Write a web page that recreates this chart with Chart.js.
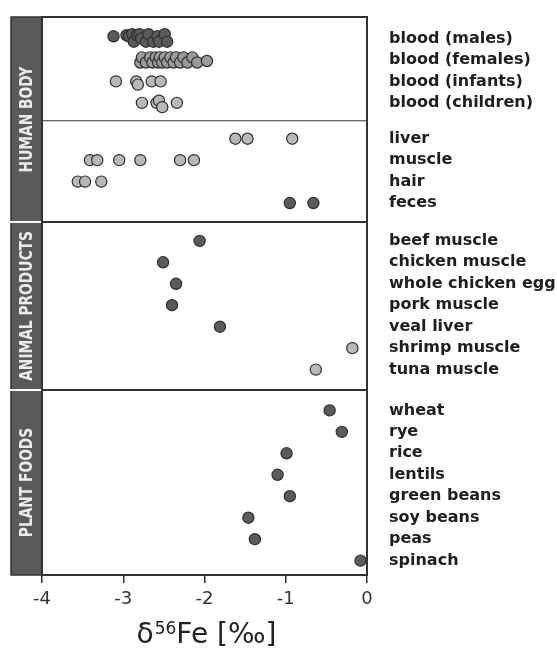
<!DOCTYPE html>
<html>
<head>
<meta charset="utf-8">
<script src="https://cdn.jsdelivr.net/npm/chart.js@4.4.1/dist/chart.umd.min.js"></script>
<style>
  html, body { margin: 0; padding: 0; background: #fff; }
  #wrap { width: 557px; height: 648px; }
</style>
</head>
<body>
<div id="wrap"><canvas id="feChart"></canvas></div>
<script>
// categories (top to bottom)
const bloodLabels = ['blood (males)', 'blood (females)', 'blood (infants)', 'blood (children)'];
const tissueLabels = ['liver', 'muscle', 'hair', 'feces'];
const animalLabels = ['beef muscle', 'chicken muscle', 'whole chicken egg', 'pork muscle', 'veal liver', 'shrimp muscle', 'tuna muscle'];
const plantLabels = ['wheat', 'rye', 'rice', 'lentils', 'green beans', 'soy beans', 'peas', 'spinach'];
const groupNames = ['HUMAN BODY', 'ANIMAL PRODUCTS', 'PLANT FOODS'];

// delta56Fe values, permil
const malesValues = [-3.12, -2.96, -2.93, -2.89, -2.87, -2.83, -2.80, -2.78, -2.72, -2.69, -2.63, -2.58, -2.56, -2.49, -2.46];
const malesSpread = [-0.1, -0.15, -0.1, -0.2, 0.15, -0.15, -0.2, 0, 0.15, -0.2, 0.15, -0.1, 0.15, -0.2, 0.15];
const femalesValues = [-2.79, -2.77, -2.72, -2.67, -2.64, -2.60, -2.57, -2.55, -2.52, -2.49, -2.46, -2.42, -2.38, -2.35, -2.30, -2.26, -2.21, -2.15, -2.09, -1.97];
const femalesSpread = [0.12, -0.12, 0.12, -0.12, 0.12, -0.12, 0.12, -0.12, 0.12, -0.12, 0.12, -0.12, 0.12, -0.12, 0.12, -0.12, 0.12, -0.12, 0.12, 0.05];
const infantsValues = [-3.09, -2.84, -2.82, -2.65, -2.54];
const infantsSpread = [0, 0, 0.15, 0, 0];
const childrenValues = [-2.77, -2.59, -2.56, -2.52, -2.34];
const childrenSpread = [0, 0, -0.1, 0.2, 0];
const liverValues = [-1.62, -1.47, -0.92];
const muscleValues = [-3.41, -3.32, -3.05, -2.79, -2.30, -2.13];
const hairValues = [-3.56, -3.47, -3.27];
const fecesValues = [-0.95, -0.66];
const animalValues = [-2.06, -2.51, -2.35, -2.40, -1.81, -0.18, -0.63];
const plantValues = [-0.46, -0.31, -0.99, -1.10, -0.95, -1.46, -1.38, -0.08];
const xTicks = [-4, -3, -2, -1, 0];

// layout of rows on the y scale (one unit per row, gaps between blocks)
const blockStarts = [1.0, 5.67, 10.43, 18.33];
const blocks = [bloodLabels, tissueLabels, animalLabels, plantLabels];
const rows = [];
blocks.forEach((labels, b) => labels.forEach((name, i) => rows.push({ name, y: blockStarts[b] + i })));
const rowY = name => rows.find(r => r.name === name).y;

const DARK = '#5b5b5b', MID = '#9b9b9b', LIGHT = '#b8b8b8';
const lightRows = ['blood (infants)', 'blood (children)', 'liver', 'muscle', 'hair', 'shrimp muscle', 'tuna muscle'];
const shadeOf = name => name === 'blood (females)' ? MID : (lightRows.includes(name) ? LIGHT : DARK);

const rowSeries = [
  ['blood (males)', malesValues, malesSpread],
  ['blood (females)', femalesValues, femalesSpread],
  ['blood (infants)', infantsValues, infantsSpread],
  ['blood (children)', childrenValues, childrenSpread],
  ['liver', liverValues],
  ['muscle', muscleValues],
  ['hair', hairValues],
  ['feces', fecesValues]
];
animalLabels.forEach((n, i) => rowSeries.push([n, [animalValues[i]]]));
plantLabels.forEach((n, i) => rowSeries.push([n, [plantValues[i]]]));

const datasets = rowSeries.map(([name, vals, spread]) => ({
  label: name,
  data: vals.map((v, i) => ({ x: v, y: rowY(name) + (spread ? spread[i] : 0) })),
  backgroundColor: shadeOf(name),
  borderColor: '#2e2e2e',
  borderWidth: 1.2,
  pointRadius: 5.6,
  pointHoverRadius: 5.6
}));

// block boundaries = midway between last row of one block and first of next
const bounds = [];
for (let b = 1; b < blocks.length; b++) {
  bounds.push((blockStarts[b - 1] + blocks[b - 1].length - 1 + blockStarts[b]) / 2);
}

const decorPlugin = {
  id: 'decor',
  afterDraw(chart) {
    const { ctx, chartArea: ca, scales } = chart;
    const y = scales.y;
    const sideL = 11, sideR = ca.left;
    // group edges in pixels: human body covers first two blocks
    const edges = [ca.top, y.getPixelForValue(bounds[1]), y.getPixelForValue(bounds[2]), ca.bottom];
    ctx.save();
    for (let g = 0; g < 3; g++) {
      const t = edges[g], btm = edges[g + 1];
      ctx.fillStyle = '#5a5a5a';
      ctx.fillRect(sideL, t, sideR - sideL, btm - t);
      ctx.strokeStyle = '#333';
      ctx.lineWidth = 1.5;
      ctx.strokeRect(sideL, t, sideR - sideL, btm - t);
      ctx.save();
      ctx.translate((sideL + sideR) / 2 + 1, (t + btm) / 2);
      ctx.rotate(-Math.PI / 2);
      ctx.scale(0.9, 1);
      ctx.fillStyle = '#ececec';
      ctx.font = 'bold 17px "DejaVu Sans Condensed", "DejaVu Sans"';
      ctx.textAlign = 'center';
      ctx.textBaseline = 'middle';
      ctx.fillText(groupNames[g], 0, 0);
      ctx.restore();
    }
    // white gaps between side blocks
    ctx.strokeStyle = '#fff';
    ctx.lineWidth = 2;
    [edges[1], edges[2]].forEach(p => {
      ctx.beginPath(); ctx.moveTo(sideL - 1, p); ctx.lineTo(sideR - 0.5, p); ctx.stroke();
    });
    // dividers in plot
    ctx.strokeStyle = '#333';
    ctx.lineWidth = 2;
    [edges[1], edges[2]].forEach(p => {
      ctx.beginPath(); ctx.moveTo(ca.left, p); ctx.lineTo(ca.right, p); ctx.stroke();
    });
    ctx.lineWidth = 1;
    const thin = y.getPixelForValue(bounds[0]);
    ctx.beginPath(); ctx.moveTo(ca.left, thin); ctx.lineTo(ca.right, thin); ctx.stroke();
    // frame
    ctx.lineWidth = 2;
    ctx.strokeRect(ca.left, ca.top, ca.right - ca.left, ca.bottom - ca.top);
    // axis title: delta 56 Fe [permil]
    const big = '28px "DejaVu Sans"', small = '17px "DejaVu Sans"';
    ctx.fillStyle = '#222';
    ctx.textBaseline = 'alphabetic';
    ctx.textAlign = 'left';
    ctx.font = big; const wD = ctx.measureText('δ').width;
    const wR = ctx.measureText('Fe [‰]').width;
    ctx.font = small; const wS = ctx.measureText('56').width;
    const total = wD + 1 + wS + wR;
    let x = (ca.left + ca.right) / 2 - total / 2 + 2;
    const base = 643;
    ctx.font = big; ctx.fillText('δ', x, base); x += wD + 1;
    ctx.font = small; ctx.fillText('56', x, base - 9); x += wS;
    ctx.font = big; ctx.fillText('Fe [‰]', x, base);
    ctx.restore();
  }
};

new Chart(document.getElementById('feChart'), {
  type: 'scatter',
  data: { datasets },
  options: {
    responsive: true,
    maintainAspectRatio: false,
    animation: false,
    layout: { padding: { left: 42, top: 17, right: 0, bottom: 0 } },
    plugins: { legend: { display: false }, tooltip: { enabled: false }, title: { display: false } },
    scales: {
      x: {
        type: 'linear',
        min: xTicks[0],
        max: xTicks[xTicks.length - 1],
        afterBuildTicks: s => { s.ticks = xTicks.map(v => ({ value: v })); },
        afterFit: s => { s.height = 73; s.paddingLeft = 0; s.paddingRight = 0; },
        grid: { drawOnChartArea: false, drawTicks: true, tickLength: 8, color: '#333', lineWidth: 1.5 },
        border: { display: false },
        ticks: { color: '#333', padding: 6, font: { family: 'DejaVu Sans', size: 18 } }
      },
      y: {
        type: 'linear',
        position: 'right',
        reverse: true,
        min: 0,
        max: 26,
        afterBuildTicks: s => { s.ticks = rows.map(r => ({ value: r.y })); },
        afterFit: s => { s.width = 190; s.paddingTop = 0; s.paddingBottom = 0; },
        grid: { display: false, drawTicks: false },
        border: { display: false },
        ticks: {
          autoSkip: false,
          padding: 22,
          color: '#1e1e1e',
          font: { family: 'DejaVu Sans', size: 16, weight: 'bold' },
          callback: (v, i) => rows[i].name
        }
      }
    }
  },
  plugins: [decorPlugin]
});
</script>
</body>
</html>
